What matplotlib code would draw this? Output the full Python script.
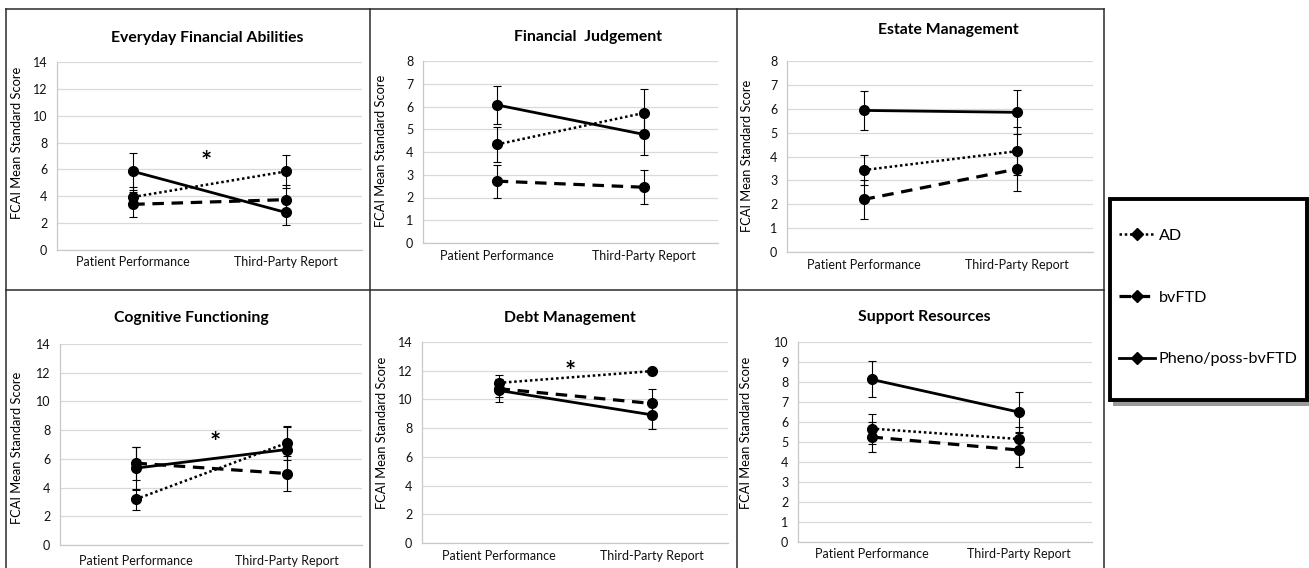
import matplotlib
matplotlib.use("Agg")
import matplotlib.pyplot as plt
from matplotlib.lines import Line2D
from matplotlib.patches import Rectangle
import numpy as np

plt.rcParams['font.family'] = ['Lato', 'DejaVu Sans']

conditions = ["Patient Performance", "Third-Party Report"]
groups = ["AD", "bvFTD", "Pheno/poss-bvFTD"]
titles = ["Everyday Financial Abilities", "Financial  Judgement", "Estate Management",
          "Cognitive Functioning", "Debt Management", "Support Resources"]

# mean scores per panel: [patient performance, third-party report]
ad_mean = [[3.95, 5.85], [4.33, 5.72], [3.43, 4.22], [3.18, 7.10], [11.15, 11.97], [5.67, 5.15]]
ad_err = [[0.75, 1.20], [0.78, 1.07], [0.62, 1.00], [0.72, 1.20], [0.55, 0.00], [0.75, 0.60]]
bv_mean = [[3.40, 3.75], [2.72, 2.45], [2.20, 3.47], [5.70, 4.98], [10.75, 9.72], [5.25, 4.60]]
bv_err = [[0.95, 1.10], [0.73, 0.75], [0.80, 0.90], [1.15, 1.20], [0.60, 1.00], [0.75, 0.87]]
ph_mean = [[5.85, 2.80], [6.07, 4.77], [5.93, 5.85], [5.35, 6.65], [10.63, 8.93], [8.13, 6.50]]
ph_err = [[1.40, 0.95], [0.85, 0.90], [0.80, 0.92], [1.50, 1.60], [0.80, 1.00], [0.90, 1.00]]

y_max = [14, 8, 8, 14, 14, 10]
y_step = [2, 1, 1, 2, 2, 1]

# significance asterisks: panel index, x position, y value
star_panel = [0, 3, 4]
star_x = [0.48, 0.53, 0.47]
star_y = [7.3, 7.8, 12.6]

W, H = 1309, 568
fig = plt.figure(figsize=(W / 100, H / 100), dpi=100)

def fx(px):
    return px / W

def fy(py):
    return 1 - py / H

# layout in pixels (left, top, right, bottom)
axes_px = [(57, 62, 362, 250), (423, 61, 718, 243), (787, 61, 1093, 252),
           (60, 344, 362, 545), (422, 342, 728, 543), (798, 342, 1092, 542)]
title_px = [(207, 38), (588, 37), (948, 30), (191, 318), (570, 318), (924, 317)]
ylabel_px = [(23, 143), (387, 151), (753, 156), (23, 448), (388, 433), (752, 433)]
xpad = [4, 5, 5, 7, 5, 4]

styles = [(0, (1, 1.1)), (0, (3.6, 2.4)), '-']
widths = [1.8, 2.3, 2.0]
x = np.arange(len(conditions))

for i in range(6):
    l, t, r, b = axes_px[i]
    ax = fig.add_axes([fx(l), fy(b), fx(r) - fx(l), fy(t) - fy(b)])
    series = [(ad_mean[i], ad_err[i]), (bv_mean[i], bv_err[i]), (ph_mean[i], ph_err[i])]
    for k, (m, e) in enumerate(series):
        ax.errorbar(x, m, yerr=e, color='black', ls=styles[k], lw=widths[k],
                    marker='o', ms=7, capsize=3, elinewidth=0.8, capthick=0.8, zorder=3)
    ax.set_xlim(-0.5, 1.5)
    ax.set_ylim(0, y_max[i])
    ax.set_yticks(np.arange(0, y_max[i] + 0.1, y_step[i]))
    ax.set_xticks(x)
    ax.set_xticklabels(conditions)
    ax.tick_params(length=0, labelsize=9, colors='#111111')
    ax.tick_params(axis='x', pad=xpad[i])
    ax.tick_params(axis='y', pad=7)
    ax.grid(axis='y', color='#d9d9d9', lw=0.9)
    ax.set_axisbelow(True)
    for s in ['top', 'right']:
        ax.spines[s].set_visible(False)
    for s in ['left', 'bottom']:
        ax.spines[s].set_color('#c8c8c8')
        ax.spines[s].set_linewidth(0.9)
    ax.set_ylabel("FCAI Mean Standard Score", fontsize=9.3)
    ax.yaxis.set_label_coords(fx(ylabel_px[i][0]), fy(ylabel_px[i][1]), transform=fig.transFigure)
    fig.text(fx(title_px[i][0]), fy(title_px[i][1]), titles[i], ha='center', va='center',
             fontsize=11.3, fontweight='bold')
    if i in star_panel:
        j = star_panel.index(i)
        ax.annotate("*", (star_x[j], star_y[j]), xytext=(0, -7), textcoords='offset points',
                    ha='center', va='center', fontsize=19, fontweight='bold')

# panel borders
border = dict(color='#2a2a2a', lw=1.1)
for xb in [6, 370, 737, 1104]:
    fig.add_artist(Line2D([fx(xb), fx(xb)], [fy(9), 0], **border))
for yb in [9, 290]:
    fig.add_artist(Line2D([fx(6), fx(1104)], [fy(yb), fy(yb)], **border))

# legend box with shadow
fig.add_artist(Rectangle((fx(1113), fy(406)), fx(196), fy(203) - fy(406),
                         facecolor='#9a9a9a', edgecolor='none', zorder=1))
fig.add_artist(Rectangle((fx(1110), fy(400)), fx(197), fy(199) - fy(400),
                         facecolor='white', edgecolor='black', lw=2.8, zorder=2))
handles = [Line2D([], [], color='black', ls=styles[k], lw=widths[k], marker='D', ms=6.5)
           for k in range(3)]
leg = fig.legend(handles, groups, loc='upper left', bbox_to_anchor=(fx(1113), fy(222)),
                 frameon=False, fontsize=11.6, handlelength=2.2, handletextpad=0.25,
                 labelspacing=2.95, borderaxespad=0)
leg.set_zorder(3)

fig.savefig("out.png", dpi=100)
